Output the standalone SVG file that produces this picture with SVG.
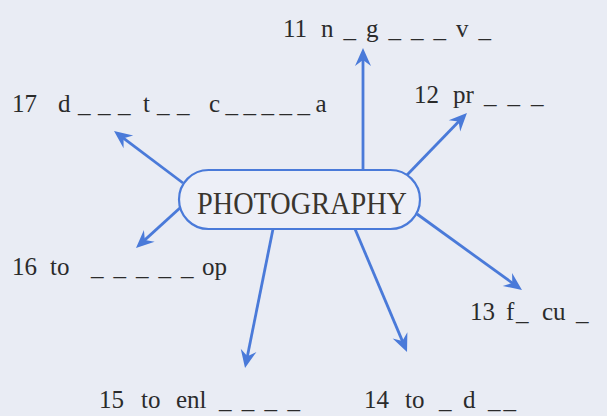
<svg xmlns="http://www.w3.org/2000/svg" width="607" height="416" viewBox="0 0 607 416">
<style>
.lbl{font-family:"Liberation Serif","Times New Roman",serif;font-size:25px;fill:#2b2b2b}
.title{font-family:"Liberation Serif","Times New Roman",serif;font-size:31px;fill:#3a352e}
.arrow{stroke:#4a7ad9;stroke-width:2.8;fill:none;marker-end:url(#ah)}
.pill{fill:#edeff7;stroke:#4a7ad9;stroke-width:2.2}
</style>
<defs>
<marker id="ah" viewBox="-19 -9 20 18" refX="-8" refY="0" markerWidth="20" markerHeight="18" markerUnits="userSpaceOnUse" orient="auto">
<path d="M0,0 L-18,-8 L-12,0 L-18,8 Z" fill="#4a7ad9"/>
</marker>
</defs>
<rect x="0" y="0" width="607" height="416" fill="#e9ecf4"/>
<g id="connectors">
<line class="arrow" x1="363" y1="171" x2="363" y2="56"/>
<line class="arrow" x1="407" y1="175" x2="461.4" y2="118.7"/>
<line class="arrow" x1="417" y1="214" x2="515.5" y2="285.3"/>
<line class="arrow" x1="355" y1="229" x2="403.9" y2="344.6"/>
<line class="arrow" x1="273" y1="229" x2="246.6" y2="360.2"/>
<line class="arrow" x1="181" y1="207" x2="141.9" y2="242.6"/>
<line class="arrow" x1="183" y1="183" x2="120.4" y2="135.8"/>
</g>
<g id="center">
<rect class="pill" x="179" y="170" width="241" height="59" rx="29.5" ry="29.5"/>
<text class="title" x="197" y="214" textLength="210" lengthAdjust="spacingAndGlyphs">PHOTOGRAPHY</text>
</g>
<g id="n11">
<text class="lbl" y="37"><tspan x="283">11</tspan> <tspan x="321" letter-spacing="10">n_g___v_</tspan></text>
</g>
<g id="n12">
<text class="lbl" y="103"><tspan x="414">12</tspan> <tspan x="453">pr</tspan><tspan x="484" letter-spacing="11">___</tspan></text>
</g>
<g id="n13">
<text class="lbl" y="320"><tspan x="470">13</tspan> <tspan x="506">f</tspan><tspan x="516">_</tspan><tspan x="542">cu</tspan><tspan x="576">_</tspan></text>
</g>
<g id="n14">
<text class="lbl" y="408"><tspan x="364">14</tspan> <tspan x="405">to</tspan> <tspan x="439">_</tspan><tspan x="463">d</tspan><tspan x="488" letter-spacing="3">__</tspan></text>
</g>
<g id="n15">
<text class="lbl" y="408"><tspan x="99">15</tspan> <tspan x="141">to</tspan> <tspan x="176">enl</tspan><tspan x="219" letter-spacing="10.3">____</tspan></text>
</g>
<g id="n16">
<text class="lbl" y="275"><tspan x="12">16</tspan> <tspan x="50">to</tspan> <tspan x="91" letter-spacing="10">_____</tspan><tspan x="202">op</tspan></text>
</g>
<g id="n17">
<text class="lbl" y="112"><tspan x="12">17</tspan> <tspan x="58" letter-spacing="7.5">d___</tspan><tspan x="143">t</tspan><tspan x="157" letter-spacing="7.5">__</tspan> <tspan x="209" letter-spacing="5.5">c_____a</tspan></text>
</g>
</svg>
